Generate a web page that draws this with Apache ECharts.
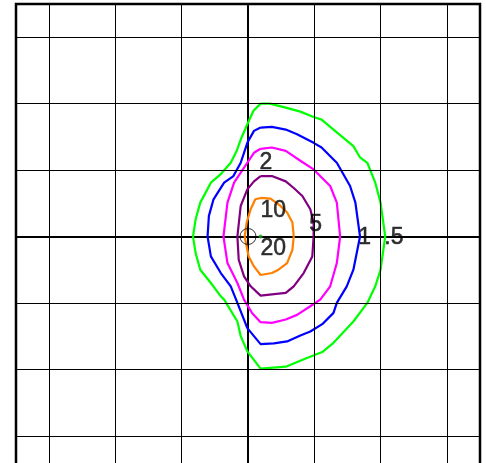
<!DOCTYPE html>
<html>
<head>
<meta charset="utf-8">
<script src="https://cdn.jsdelivr.net/npm/echarts@6/dist/echarts.min.js"></script>
<style>
  html, body { margin: 0; padding: 0; background: #fff; }
  #main { width: 486px; height: 463px; }
</style>
</head>
<body>
<div id="main"></div>
<script>
// grid lines (integer positions, axes at 0 drawn separately)
const gridTicks = [-3, -2, -1, 1, 2, 3]

// contour levels
const level05 = [[0.19, 2.00], [0.33, 2.00], [0.57, 1.94], [0.79, 1.88], [0.99, 1.80], [1.11, 1.76], [1.29, 1.61], [1.59, 1.36], [1.69, 1.19], [1.80, 1.11], [1.92, 0.81], [2.00, 0.51], [2.07, 0.00], [2.00, -0.50], [1.92, -0.75], [1.80, -1.00], [1.59, -1.28], [1.29, -1.60], [1.12, -1.74], [0.89, -1.83], [0.57, -1.96], [0.19, -1.99], [-0.01, -1.73], [-0.11, -1.50], [-0.16, -1.28], [-0.36, -0.95], [-0.41, -0.90], [-0.56, -0.70], [-0.72, -0.50], [-0.79, -0.25], [-0.83, 0.00], [-0.79, 0.26], [-0.72, 0.51], [-0.56, 0.81], [-0.41, 0.94], [-0.26, 1.11], [-0.17, 1.29], [-0.11, 1.46], [-0.01, 1.69], [0.08, 1.89], [0.19, 2.00]]
const level1 = [[0.19, 1.64], [0.36, 1.65], [0.57, 1.61], [0.74, 1.54], [0.99, 1.41], [1.11, 1.34], [1.29, 1.16], [1.34, 1.11], [1.54, 0.76], [1.62, 0.51], [1.69, 0.00], [1.59, -0.50], [1.49, -0.75], [1.34, -1.00], [1.29, -1.15], [1.12, -1.32], [0.94, -1.43], [0.79, -1.49], [0.59, -1.58], [0.39, -1.61], [0.19, -1.62], [-0.01, -1.38], [-0.16, -1.00], [-0.26, -0.75], [-0.41, -0.55], [-0.56, -0.30], [-0.61, 0.00], [-0.59, 0.31], [-0.52, 0.56], [-0.36, 0.81], [-0.22, 0.91], [-0.11, 1.11], [-0.01, 1.41], [0.09, 1.59], [0.19, 1.64]]
const level2 = [[0.19, 1.32], [0.36, 1.34], [0.57, 1.29], [0.79, 1.14], [0.99, 1.01], [1.24, 0.76], [1.34, 0.51], [1.39, 0.00], [1.34, -0.40], [1.24, -0.75], [1.09, -0.95], [0.94, -1.05], [0.74, -1.18], [0.57, -1.25], [0.36, -1.30], [0.19, -1.29], [0.06, -1.15], [-0.06, -0.95], [-0.16, -0.70], [-0.31, -0.40], [-0.37, 0.00], [-0.31, 0.51], [-0.21, 0.81], [-0.11, 0.96], [-0.01, 1.11], [0.09, 1.26], [0.19, 1.32]]
const level5 = [[0.19, 0.91], [0.36, 0.91], [0.57, 0.83], [0.69, 0.73], [0.82, 0.61], [0.94, 0.41], [0.99, 0.21], [0.99, 0.00], [0.97, -0.30], [0.84, -0.55], [0.69, -0.75], [0.57, -0.85], [0.36, -0.87], [0.19, -0.89], [0.04, -0.75], [-0.06, -0.60], [-0.14, -0.35], [-0.16, 0.00], [-0.11, 0.46], [-0.01, 0.71], [0.09, 0.83], [0.19, 0.91]]
const level10 = [[0.19, 0.58], [0.34, 0.57], [0.49, 0.46], [0.59, 0.36], [0.67, 0.21], [0.69, 0.00], [0.67, -0.20], [0.59, -0.40], [0.46, -0.50], [0.36, -0.55], [0.19, -0.58], [0.09, -0.45], [0.01, -0.30], [-0.02, -0.15], [-0.05, 0.00], [-0.02, 0.21], [0.04, 0.41], [0.11, 0.56], [0.19, 0.58]]
const level20 = [[0.19, 0.00]]
const origin = [[0, 0]]

// contour labels
const labelText = ['.5', '1', '2', '5', '10', '20']
const labelX = [2.20, 1.76, 0.27, 1.02, 0.38, 0.38]
const labelY = [-0.02, -0.01, 1.11, 0.18, 0.39, -0.18]

const contours = [
  { data: level05, color: '#00ff00' },
  { data: level1, color: '#0000ff' },
  { data: level2, color: '#ff00ff' },
  { data: level5, color: '#800080' },
  { data: level10, color: '#ff8000' }
]

const chart = echarts.init(document.getElementById('main'))

const axisCommon = {
  type: 'value',
  min: -3.5,
  max: 3.5,
  axisLine: { show: true, onZero: true, lineStyle: { color: '#000', width: 2 } },
  axisTick: { show: false },
  axisLabel: { show: false },
  splitLine: { show: false }
}

const series = [
  {
    type: 'line',
    data: [],
    silent: true,
    z: 1,
    markLine: {
      silent: true,
      symbol: 'none',
      label: { show: false },
      animation: false,
      lineStyle: { color: '#000', width: 1, type: 'solid' },
      data: gridTicks.map(v => ({ xAxis: v })).concat(gridTicks.map(v => ({ yAxis: v })))
    }
  }
]

contours.forEach(c => {
  series.push({
    type: 'line',
    data: c.data,
    symbol: 'none',
    smooth: false,
    z: 3,
    lineStyle: { color: c.color, width: 2.2 }
  })
})

series.push({
  type: 'scatter',
  data: level20,
  symbolSize: 4,
  z: 4,
  itemStyle: { color: '#1f9a1f' }
})

series.push({
  type: 'scatter',
  data: origin,
  symbolSize: 16,
  z: 4,
  itemStyle: { color: 'rgba(0,0,0,0)', borderColor: '#000', borderWidth: 1 }
})

series.push({
  type: 'scatter',
  data: labelText.map((t, i) => ({ name: t, value: [labelX[i], labelY[i]] })),
  symbolSize: 1,
  z: 5,
  itemStyle: { color: 'rgba(0,0,0,0)' },
  label: {
    show: true,
    position: 'inside',
    formatter: p => p.name,
    color: '#000',
    textBorderColor: '#000',
    textBorderWidth: 0.5,
    fontSize: 23,
    fontFamily: 'Liberation Sans, Arial, sans-serif'
  }
})

chart.setOption({
  animation: false,
  backgroundColor: '#fff',
  grid: {
    show: true,
    left: 16,
    top: 4,
    right: 6,
    bottom: -6,
    outerBoundsMode: 'none',
    borderColor: '#000',
    borderWidth: 2.5,
    containLabel: false
  },
  xAxis: axisCommon,
  yAxis: axisCommon,
  series: series
})
</script>
</body>
</html>
